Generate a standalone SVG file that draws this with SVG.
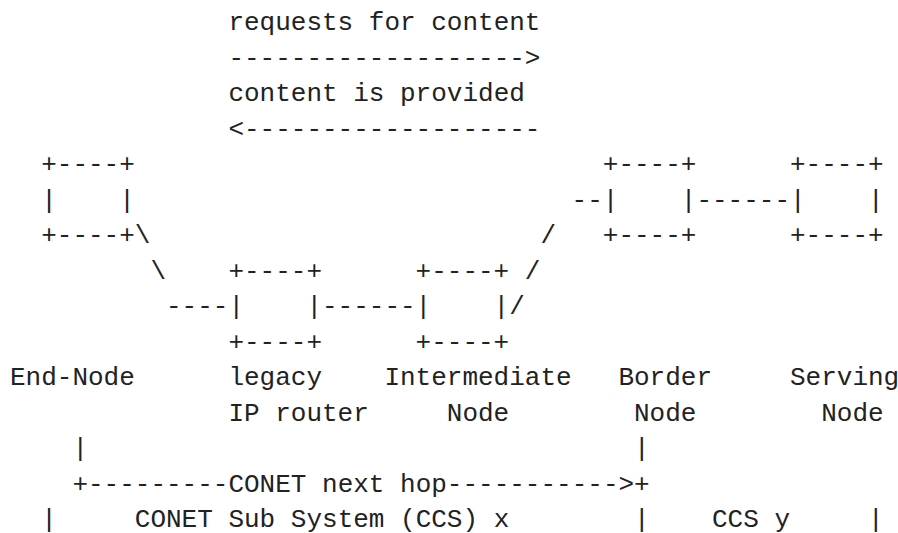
<svg xmlns="http://www.w3.org/2000/svg" width="898" height="533" viewBox="0 0 898 533" xml:space="preserve">
<style>
text { font-family: "Liberation Mono", "DejaVu Sans Mono", monospace; font-size: 26px; fill: #222; white-space: pre; }
</style>
<rect x="0" y="0" width="898" height="533" fill="#ffffff"/>
<g id="messages">
<text x="228.4" y="30">requests for content</text>
<text x="228.4" y="65.5">-------------------&gt;</text>
<text x="228.4" y="101">content is provided</text>
<text x="228.4" y="136.5">&lt;-------------------</text>
</g>
<g id="end-node">
<text x="41.2" y="172">+----+</text>
<text x="41.2" y="207.5">|    |</text>
<text x="41.2" y="243">+----+</text>
<text x="10" y="385">End-Node</text>
</g>
<g id="legacy-router">
<text x="228.4" y="278.5">+----+</text>
<text x="228.4" y="314">|    |</text>
<text x="228.4" y="349.5">+----+</text>
<text x="228.4" y="385">legacy</text>
<text x="228.4" y="420.5">IP router</text>
</g>
<g id="intermediate-node">
<text x="415.6" y="278.5">+----+</text>
<text x="415.6" y="314">|    |</text>
<text x="415.6" y="349.5">+----+</text>
<text x="384.4" y="385">Intermediate</text>
<text x="446.8" y="420.5">Node</text>
</g>
<g id="border-node">
<text x="602.8" y="172">+----+</text>
<text x="602.8" y="207.5">|    |</text>
<text x="602.8" y="243">+----+</text>
<text x="618.4" y="385">Border</text>
<text x="634" y="420.5">Node</text>
</g>
<g id="serving-node">
<text x="790" y="172">+----+</text>
<text x="790" y="207.5">|    |</text>
<text x="790" y="243">+----+</text>
<text x="790" y="385">Serving</text>
<text x="821.2" y="420.5">Node</text>
</g>
<g id="connectors">
<text x="134.8" y="243">\</text>
<text x="150.4" y="278.5">\</text>
<text x="166" y="314">----</text>
<text x="322" y="314">------</text>
<text x="509.2" y="314">/</text>
<text x="524.8" y="278.5">/</text>
<text x="540.4" y="243">/</text>
<text x="571.6" y="207.5">--</text>
<text x="696.4" y="207.5">------</text>
</g>
<g id="conet-next-hop">
<text x="72.4" y="456">|</text>
<text x="634" y="456">|</text>
<text x="72.4" y="491.5">+---------CONET next hop-----------&gt;+</text>
</g>
<g id="subsystems">
<text x="41.2" y="527">|</text>
<text x="134.8" y="527">CONET Sub System (CCS) x</text>
<text x="634" y="527">|</text>
<text x="712" y="527">CCS y</text>
<text x="868" y="527">|</text>
</g>
</svg>
